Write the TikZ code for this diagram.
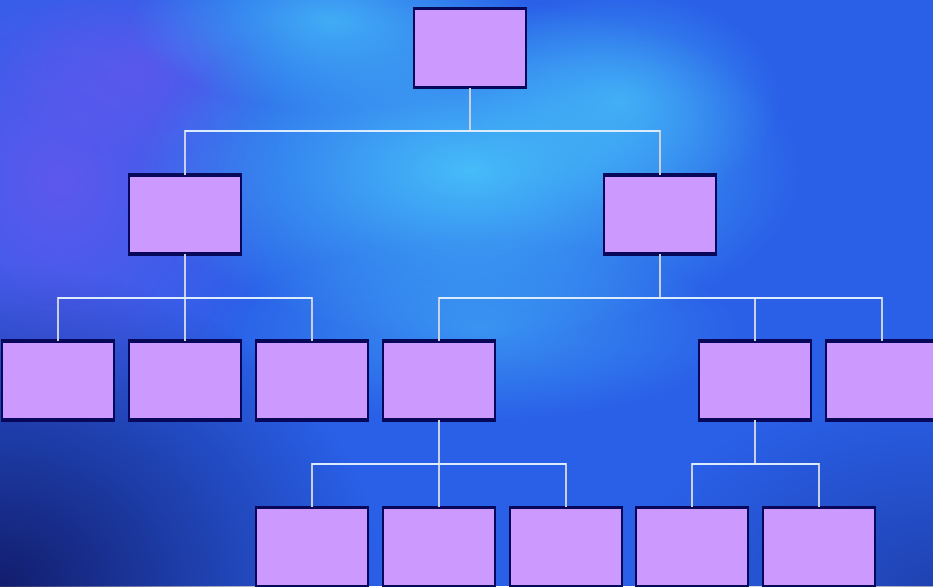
\documentclass[tikz,border=0pt]{standalone}
\usepackage{tikz}
\usetikzlibrary{fadings}
\definecolor{bgblue}{RGB}{42,96,232}
\definecolor{bgcyan}{RGB}{75,205,252}
\definecolor{bgdark}{RGB}{16,22,96}
\definecolor{bgviolet}{RGB}{115,85,240}
\definecolor{boxfill}{RGB}{204,153,255}
\definecolor{boxline}{RGB}{8,8,90}
\definecolor{stemline}{RGB}{200,208,225}
\definecolor{busline}{RGB}{220,236,255}
\tikzfading[name=glow, inner color=transparent!0, outer color=transparent!100]

\begin{document}
\begin{tikzpicture}[
  x={(0.03cm,0)}, y={(0,-0.03cm)},
  box/.style={draw=boxline, fill=boxfill, line width=1.1pt, rectangle, inner sep=0pt, minimum width=3.36cm, minimum height=2.34cm},
  stem/.style={draw=stemline, line width=0.9pt},
  bus/.style={draw=busline, line width=1.6pt}
]
% background
\useasboundingbox (0,0) rectangle (933,586);
\clip (0,0) rectangle (933,586);
\fill[bgblue] (0,0) rectangle (933,586);
\fill[bgviolet, opacity=0.7, path fading=glow] (60,180) ellipse (220 and 260);
\fill[bgviolet, opacity=0.5, path fading=glow] (140,70) ellipse (140 and 90);
\fill[bgcyan, opacity=0.85, path fading=glow] (470,170) ellipse (330 and 170);
\fill[bgcyan, opacity=0.7, path fading=glow] (330,20) ellipse (200 and 90);
\fill[bgcyan, opacity=0.6, path fading=glow] (620,100) ellipse (160 and 110);
\fill[bgcyan, opacity=0.45, path fading=glow] (480,330) ellipse (260 and 90);
\fill[bgdark, opacity=0.9, path fading=glow] (0,586) ellipse (380 and 320);
\fill[bgdark, opacity=0.4, path fading=glow] (933,586) ellipse (300 and 200);

% boxes
\node[box] (top) at (470,48) {};
\node[box] (mid1) at (185,214.5) {};
\node[box] (mid2) at (660,214.5) {};
\node[box] (sub1) at (58,380.5) {};
\node[box] (sub2) at (185,380.5) {};
\node[box] (sub3) at (312,380.5) {};
\node[box] (sub4) at (439,380.5) {};
\node[box] (sub5) at (755,380.5) {};
\node[box] (sub6) at (882,380.5) {};
\node[box] (leaf1) at (312,547) {};
\node[box] (leaf2) at (439,547) {};
\node[box] (leaf3) at (566,547) {};
\node[box] (leaf4) at (692,547) {};
\node[box] (leaf5) at (819,547) {};
\foreach \n in {top,mid1,mid2,sub1,sub2,sub3,sub4,sub5,sub6,leaf1,leaf2,leaf3,leaf4,leaf5}
  \draw[boxline, line width=3pt] (\n.north west) -- (\n.north east) (\n.south west) -- (\n.south east);

% connectors
\coordinate (bustop) at (470,131);
\coordinate (busmid1) at (185,298);
\coordinate (busmid2) at (660,298);
\coordinate (bussub4) at (439,464);
\coordinate (bussub5) at (755,464);

\draw[stem] (top.south) -- (bustop);
\draw[stem] (bustop) -| (mid1.north);
\draw[stem] (bustop) -| (mid2.north);
\draw[bus] (mid1.north |- bustop) -- (mid2.north |- bustop);

\draw[stem] (mid1.south) -- (busmid1);
\foreach \n in {sub1,sub2,sub3}
  \draw[stem] (busmid1) -| (\n.north);
\draw[bus] (sub1.north |- busmid1) -- (sub3.north |- busmid1);

\draw[stem] (mid2.south) -- (busmid2);
\foreach \n in {sub4,sub5,sub6}
  \draw[stem] (busmid2) -| (\n.north);
\draw[bus] (sub4.north |- busmid2) -- (sub6.north |- busmid2);

\draw[stem] (sub4.south) -- (bussub4);
\foreach \n in {leaf1,leaf2,leaf3}
  \draw[stem] (bussub4) -| (\n.north);
\draw[bus] (leaf1.north |- bussub4) -- (leaf3.north |- bussub4);

\draw[stem] (sub5.south) -- (bussub5);
\foreach \n in {leaf4,leaf5}
  \draw[stem] (bussub5) -| (\n.north);
\draw[bus] (leaf4.north |- bussub5) -- (leaf5.north |- bussub5);
\end{tikzpicture}
\end{document}
